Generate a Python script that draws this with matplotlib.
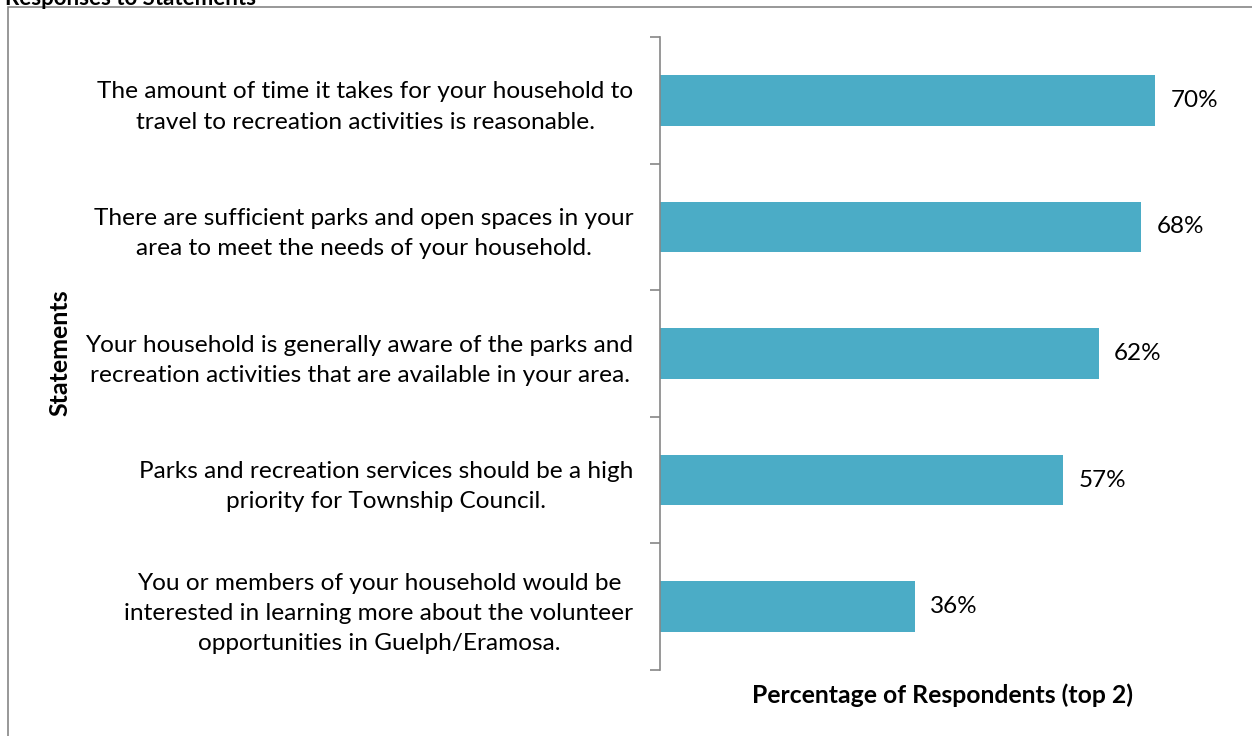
import matplotlib.pyplot as plt
from matplotlib.patches import Rectangle

plt.rcParams['font.family'] = ['Lato', 'DejaVu Sans']

statements = [
    "The amount of time it takes for your household to\ntravel to recreation activities is reasonable.",
    "There are sufficient parks and open spaces in your\narea to meet the needs of your household.",
    "Your household is generally aware of the parks and\nrecreation activities that are available in your area.",
    "Parks and recreation services should be a high\npriority for Township Council.",
    "You or members of your household would be\ninterested in learning more about the volunteer\nopportunities in Guelph/Eramosa.",
]
percent = [70, 68, 62, 57, 36]
bar_color = '#4BACC6'
spine_color = '#868686'

W, H = 1252, 736
fig = plt.figure(figsize=(W / 100, H / 100), dpi=100)

# chart border (runs off the right and bottom edges)
fig.patches.append(Rectangle((8 / W, -0.05), 1.2, 1 - 7 / H + 0.05,
                             transform=fig.transFigure, fill=False,
                             edgecolor=spine_color, linewidth=1.2))
# title cut off at top, as in the source page
fig.text(5 / W, 1 + 12 / H, "Responses to Statements", fontsize=16,
         fontweight='bold', va='top', ha='left')

ax = fig.add_axes([660 / W, 1 - 670 / H, 566 / W, 633 / H])
y = list(range(len(percent)))
ax.barh(y, percent, height=0.4, color=bar_color)
ax.set_ylim(len(percent) - 0.5, -0.5)
ax.set_xlim(0, 80)

for yi, v in zip(y, percent):
    ax.text(v + 2.2, yi, f"{v}%", va='center', ha='left', fontsize=17.5)

ax.set_yticks([i - 0.5 for i in range(len(percent) + 1)])
ax.set_yticklabels([])
ax.set_yticks(y, minor=True)
ax.set_yticklabels(statements, minor=True, fontsize=17.6, ha='right',
                   multialignment='center', linespacing=1.55)
ax.tick_params(axis='y', which='major', length=7, color=spine_color, width=1.2)
ax.tick_params(axis='y', which='minor', length=0, pad=19)
ax.set_xticks([])
for s in ['top', 'right', 'bottom']:
    ax.spines[s].set_visible(False)
ax.spines['left'].set_color(spine_color)
ax.spines['left'].set_linewidth(1.2)

ax.set_xlabel("Percentage of Respondents (top 2)", fontsize=17.8,
              fontweight='bold', labelpad=10)
fig.text(60 / W, 1 - 353 / H, "Statements", rotation=90, fontsize=18,
         fontweight='bold', va='center', ha='center')

fig.savefig('out.png', dpi=100)
